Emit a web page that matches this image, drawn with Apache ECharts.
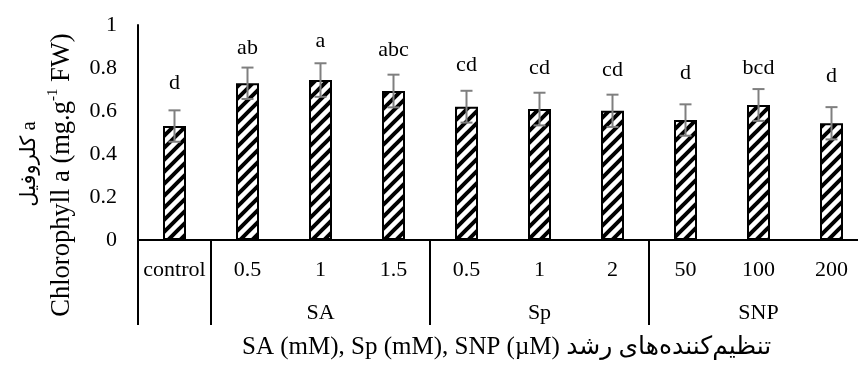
<!DOCTYPE html>
<html>
<head>
<meta charset="utf-8">
<script src="https://cdn.jsdelivr.net/npm/echarts@6/dist/echarts.min.js"></script>
<style>
  html, body { margin: 0; padding: 0; background: #ffffff; }
  #chart { width: 858px; height: 365px; }
</style>
</head>
<body>
<div id="chart"></div>
<script>
// Treatments on the category axis, grouped by growth regulator
const categories = ['control', '0.5', '1', '1.5', '0.5', '1', '2', '50', '100', '200'];
const groupNames = ['', 'SA', 'Sp', 'SNP'];
const groupSizes = [1, 3, 3, 3];

// Chlorophyll a (mg.g-1 FW): means and error half-widths
const chlorophyllA = [0.530, 0.729, 0.744, 0.693, 0.620, 0.609, 0.601, 0.558, 0.628, 0.543];
const errorValues  = [0.073, 0.073, 0.078, 0.076, 0.074, 0.076, 0.075, 0.073, 0.074, 0.075];

// Duncan letters and the level (axis units) where each letter's baseline sits
const letters = ['d', 'ab', 'a', 'abc', 'cd', 'cd', 'cd', 'd', 'bcd', 'd'];
const letterLevels = [0.698, 0.860, 0.893, 0.851, 0.781, 0.767, 0.758, 0.744, 0.767, 0.730];

// Value-axis ticks
const yMin = 0, yMax = 1, yStep = 0.2;

const SERIF = '"Liberation Serif", "Times New Roman", "DejaVu Sans", serif';

// Upward diagonal hatch used to fill the bars
function makeHatch() {
  const s = 12;
  const c = document.createElement('canvas');
  c.width = s; c.height = s;
  const g = c.getContext('2d');
  g.fillStyle = '#ffffff';
  g.fillRect(0, 0, s, s);
  g.strokeStyle = '#000000';
  g.lineWidth = 4;
  g.lineCap = 'square';
  g.beginPath();
  g.moveTo(-2, s + 2); g.lineTo(s + 2, -2);
  g.moveTo(-2, 2); g.lineTo(2, -2);
  g.moveTo(s - 2, s + 2); g.lineTo(s + 2, s - 2);
  g.stroke();
  return c;
}

// Group spans on the category axis: [startIndex, size, name]
const groupData = [];
let start = 0;
groupSizes.forEach((n, k) => { groupData.push([start, n, k]); start += n; });

const chart = echarts.init(document.getElementById('chart'), null, { renderer: 'canvas' });

chart.setOption({
  animation: false,
  backgroundColor: '#ffffff',
  grid: { left: 138, top: 25, width: 730, height: 215, containLabel: false, outerBoundsMode: 'none' },
  xAxis: {
    type: 'category',
    data: categories,
    axisLine: { show: true, lineStyle: { color: '#000', width: 2 } },
    axisTick: { show: false },
    axisLabel: { interval: 0, color: '#000', fontFamily: SERIF, fontSize: 22, margin: 19 },
    splitLine: { show: false }
  },
  yAxis: {
    type: 'value',
    min: yMin, max: yMax, interval: yStep,
    axisLine: { show: true, lineStyle: { color: '#000', width: 2 } },
    axisTick: { show: false },
    splitLine: { show: false },
    axisLabel: { color: '#000', fontFamily: SERIF, fontSize: 22, margin: 21 }
  },
  graphic: [
    {
      type: 'text', x: 29, y: 164, rotation: Math.PI / 2,
      style: { text: 'کلروفیل a', font: '21px ' + SERIF, fill: '#000', align: 'center', verticalAlign: 'middle' }
    },
    {
      type: 'text', x: 61, y: 175, rotation: Math.PI / 2,
      style: {
        text: '{t|Chlorophyll a (mg.g}{s|-1}{t| FW)}',
        align: 'center', verticalAlign: 'middle',
        rich: {
          t: { fontFamily: SERIF, fontSize: 26.5, fill: '#000', verticalAlign: 'bottom', lineHeight: 30 },
          s: { fontFamily: SERIF, fontSize: 15, fill: '#000', verticalAlign: 'top', lineHeight: 30 }
        }
      }
    },
    {
      type: 'text', x: 242, y: 347,
      style: {
        text: 'SA (mM), Sp (mM), SNP (µM) تنظیم‌کننده‌های رشد',
        font: '25px ' + SERIF, fill: '#000', align: 'left', verticalAlign: 'middle'
      }
    }
  ],
  series: [
    {
      type: 'bar',
      data: chlorophyllA,
      barWidth: 23,
      itemStyle: {
        color: { image: makeHatch(), repeat: 'repeat' },
        borderColor: '#000',
        borderWidth: 2
      },
      z: 2
    },
    {
      // error bars
      type: 'custom',
      data: chlorophyllA.map((v, i) => [i, v, errorValues[i]]),
      encode: { x: 0, y: 1 },
      z: 3,
      renderItem: function (params, api) {
        const i = api.value(0), v = api.value(1), e = api.value(2);
        const top = api.coord([i, v + e]);
        const bot = api.coord([i, v - e]);
        const w = 6;
        const st = { stroke: '#7f7f7f', lineWidth: 2 };
        return {
          type: 'group',
          children: [
            { type: 'line', shape: { x1: top[0], y1: top[1], x2: bot[0], y2: bot[1] }, style: st },
            { type: 'line', shape: { x1: top[0] - w, y1: top[1], x2: top[0] + w, y2: top[1] }, style: st },
            { type: 'line', shape: { x1: bot[0] - w, y1: bot[1], x2: bot[0] + w, y2: bot[1] }, style: st }
          ]
        };
      }
    },
    {
      // significance letters
      type: 'custom',
      data: letterLevels.map((v, i) => [i, v]),
      encode: { x: 0, y: 1 },
      z: 4,
      renderItem: function (params, api) {
        const p = api.coord([api.value(0), api.value(1)]);
        return {
          type: 'text',
          x: p[0], y: p[1] - 7,
          style: {
            text: letters[params.dataIndex],
            font: '22px ' + SERIF, fill: '#000',
            align: 'center', verticalAlign: 'middle'
          }
        };
      }
    },
    {
      // group dividers and group names below the category labels
      type: 'custom',
      data: groupData,
      encode: { x: 0 },
      clip: false,
      z: 5,
      renderItem: function (params, api) {
        const s = api.value(0), n = api.value(1), k = api.value(2);
        const band = api.size([1, 0])[0];
        const c = api.coord([s, 0]);
        const left = c[0] - band / 2;
        const y0 = c[1];
        const st = { stroke: '#000', lineWidth: 2 };
        const children = [
          { type: 'line', shape: { x1: left, y1: y0, x2: left, y2: y0 + 85 }, style: st },
          {
            type: 'text', x: left + band * n / 2, y: y0 + 73,
            style: { text: groupNames[k], font: '22px ' + SERIF, fill: '#000', align: 'center', verticalAlign: 'middle' }
          }
        ];
        if (params.dataIndex === groupData.length - 1) {
          const right = left + band * n;
          children.push({ type: 'line', shape: { x1: right, y1: y0, x2: right, y2: y0 + 85 }, style: st });
        }
        return { type: 'group', children: children };
      }
    }
  ]
});
</script>
</body>
</html>
